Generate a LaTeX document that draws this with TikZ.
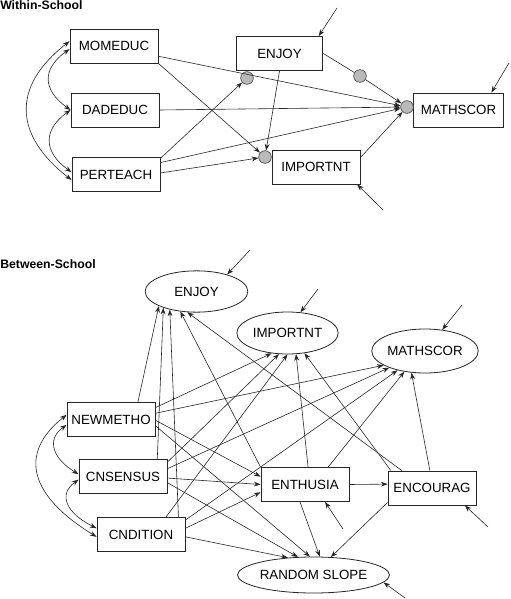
\documentclass[tikz,border=0pt]{standalone}
\usepackage{fontspec}
\setmainfont{Liberation Sans}
\usetikzlibrary{arrows.meta, shapes.geometric}
\tikzset{
  var/.style={draw=black!85, line width=0.7pt, minimum width=66pt, minimum height=25.5pt, inner sep=0pt},
  lat/.style={ellipse, draw=black!85, line width=0.6pt, minimum width=77pt, minimum height=31pt, inner sep=0pt},
  slopedot/.style={circle, draw=black!70, fill=black!27, line width=0.5pt, minimum size=9.5pt, inner sep=0pt},
  arr/.style={->, draw=black!85, line width=0.45pt},
  heading/.style={anchor=west, inner sep=0pt, font=\bfseries\fontsize{9.2}{11}\selectfont}
}

\begin{document}
\begin{tikzpicture}[x=0.75pt, y=0.75pt, >={Stealth[length=5pt, width=3.6pt]},
    every node/.append style={font=\fontsize{10}{12}\selectfont}]
  \useasboundingbox (0,0) rectangle (510,-599);

  % Within-School
  \node[heading] (wtitle) at (0,-5.5) {Within-School};
  \node[var] (mom) at (114,-46) {MOMEDUC};
  \node[var] (dad) at (115,-110) {DADEDUC};
  \node[var] (per) at (116,-174.5) {PERTEACH};
  \node[var, minimum width=65pt] (enjW) at (279.5,-53.5) {ENJOY};
  \node[var, minimum width=67pt] (mathW) at (458.5,-110) {MATHSCOR};
  \node[var] (impW) at (316,-167) {IMPORTNT};
  \node[slopedot] (s1) at (247,-78) {};
  \node[slopedot] (s2) at (360,-76) {};
  \node[slopedot] (s3) at (407,-107) {};
  \node[slopedot] (s4) at (265,-157) {};

  \draw[arr] (mom.-13) -- (s3);
  \draw[arr] (mom.south east) -- (s4);
  \draw[arr] (dad.east) -- (s3);
  \draw[arr] (per.20) -- (s1);
  \draw[arr] (per.15) -- (s3);
  \draw[arr] (per.2) -- (s4);
  \draw[arr] (enjW.south) -- (s4);
  \draw[arr, -] (enjW.east) -- (s2);
  \draw[arr] (s2) -- (s3);
  \draw[arr] (impW.12) -- (s3);

  \draw[arr, <->] (mom.174) .. controls +(-58,-45) and +(-58,45) .. (per.187);
  \draw[arr, <->] (mom.184) .. controls +(-28,-20) and +(-28,20) .. (dad.west);
  \draw[arr, <->] (dad.west) .. controls +(-28,-20) and +(-28,20) .. (per.177);

  \coordinate (eEnjW) at (337,-8);
  \coordinate (eMathW) at (509,-63);
  \coordinate (eImpW) at (383,-210);
  \draw[arr] (eEnjW) -- (enjW.24);
  \draw[arr] (eMathW) -- (mathW.28);
  \draw[arr] (eImpW) -- (impW.-23);

  % Between-School
  \node[heading] (btitle) at (0,-264.5) {Between-School};
  \node[lat] (enjB) at (196.5,-291.5) {ENJOY};
  \node[lat, minimum width=76pt, minimum height=31.5pt] (impB) at (287.5,-333) {IMPORTNT};
  \node[lat, minimum height=33pt] (mathB) at (425,-351) {MATHSCOR};
  \node[var] (newm) at (111,-419.5) {NEWMETHO};
  \node[var] (cnsen) at (123,-476.5) {CNSENSUS};
  \node[var] (cndi) at (141,-534.5) {CNDITION};
  \node[var] (enth) at (305,-484.5) {ENTHUSIA};
  \node[var] (enco) at (432,-488) {ENCOURAG};
  \node[lat, minimum width=94pt, minimum height=27pt] (rslope) at (313.5,-575) {RANDOM SLOPE};

  \draw[arr] (newm.33) -- (enjB.201);
  \draw[arr] (newm.15) -- (impB.232);
  \draw[arr] (newm.8) -- (mathB.199);
  \draw[arr] (newm.-1) -- (enth.170);
  \draw[arr] (newm.-8) -- (rslope.101);

  \draw[arr] (cnsen.27) -- (enjB.206);
  \draw[arr] (cnsen.18) -- (impB.248);
  \draw[arr] (cnsen.10) -- (mathB.205);
  \draw[arr] (cnsen.-2) -- (enth.west);
  \draw[arr] (cnsen.-8) -- (rslope.131);

  \draw[arr] (cndi.25) -- (enjB.214);
  \draw[arr] (cndi.35) -- (impB.270);
  \draw[arr] (cndi.18) -- (mathB.215);
  \draw[arr] (cndi.8) -- (enth.190);
  \draw[arr] (cndi.-3) -- (rslope.146);

  \draw[arr] (enth.north west) -- (enjB.231);
  \draw[arr] (enth.80) -- (impB.292);
  \draw[arr] (enth.37) -- (mathB.225);
  \draw[arr] (enth.east) -- (enco.175);
  \draw[arr] (enth.254) -- (rslope.71);

  \draw[arr] (enco.150) -- (enjB.246);
  \draw[arr] (enco.157) -- (impB.310);
  \draw[arr] (enco.97) -- (mathB.238);
  \draw[arr] (enco.198) -- (rslope.46);

  \draw[arr, <->] (newm.174) .. controls +(-50,-40) and +(-65,40) .. (cndi.183);
  \draw[arr, <->] (newm.187) .. controls +(-21,-15) and +(-25,15) .. (cnsen.177);
  \draw[arr, <->] (cnsen.184) .. controls +(-21,-15) and +(-30,15) .. (cndi.172);

  \coordinate (eEnjB) at (250,-250);
  \coordinate (eImpB) at (318,-289);
  \coordinate (eMathB) at (462,-305);
  \coordinate (eEnth) at (343,-529);
  \coordinate (eEnco) at (488,-527);
  \coordinate (eRslope) at (405,-598);
  \draw[arr] (eEnjB) -- (enjB.29);
  \draw[arr] (eImpB) -- (impB.58);
  \draw[arr] (eMathB) -- (mathB.51);
  \draw[arr] (eEnth) -- (enth.-41);
  \draw[arr] (eEnco) -- (enco.-28);
  \draw[arr] (eRslope) -- (rslope.-6);
\end{tikzpicture}
\end{document}
